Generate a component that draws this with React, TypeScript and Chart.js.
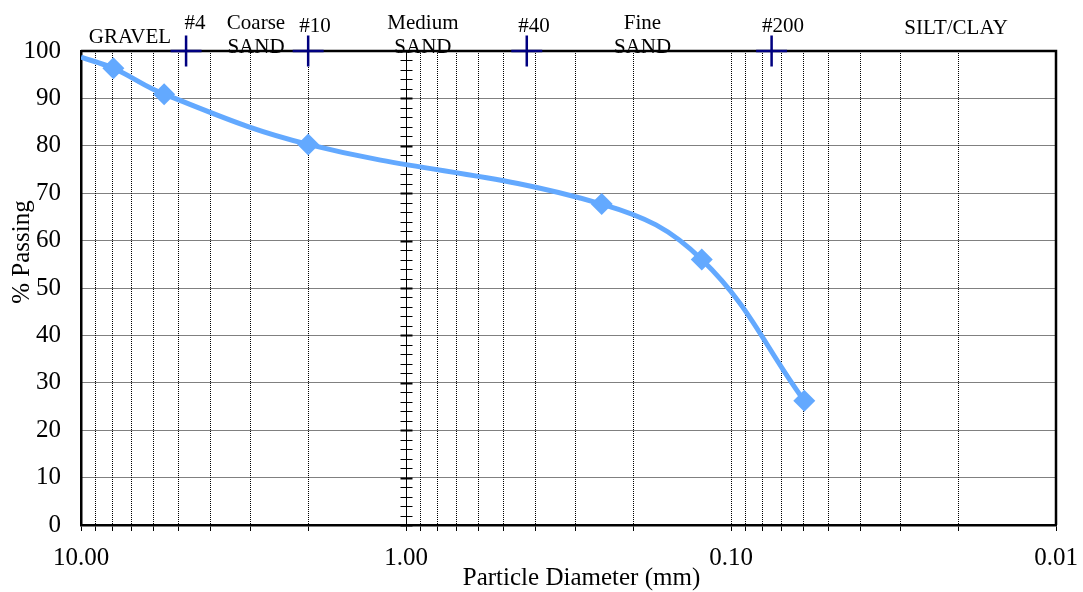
import React, { useEffect, useRef } from 'react';
import { Chart, registerables } from 'chart.js';

Chart.register(...registerables);

// ---------------- data ----------------
const diameters = [10.0, 7.95, 5.55, 2.0, 0.25, 0.123, 0.0595];
const percentPassing = [98.7, 96.35, 90.9, 80.3, 67.7, 56.0, 26.2];
const markerShown = [false, true, true, true, true, true, true];

const sieveNames = ['#4', '#10', '#40', '#200'];
const sieveSizes = [4.75, 2.0, 0.425, 0.075];
const sievePercent = [100, 100, 100, 100];

const zoneNames = [['GRAVEL'], ['Coarse', 'SAND'], ['Medium', 'SAND'], ['Fine', 'SAND'], ['SILT/CLAY']];
const zoneCentersMm = [7.07, 2.894, 0.887, 0.1872, 0.0203];
const sieveLabelCentersMm = [4.46, 1.905, 0.404, 0.0692];

const yTicks = [0, 10, 20, 30, 40, 50, 60, 70, 80, 90, 100];
const xMajorTicks = [10, 1, 0.1, 0.01];
const xMinorMultipliers = [2, 3, 4, 5, 6, 7, 8, 9];

const xTitle = 'Particle Diameter (mm)';
const yTitle = '% Passing';

// ---------------- styles ----------------
const FONT = "'Liberation Serif', 'Times New Roman', serif";
const CURVE_COLOR = 'rgb(99,169,255)';
const SIEVE_COLOR = '#000080';

const xTickValues: number[] = [];
xMajorTicks.forEach((m) => {
  xTickValues.push(m);
  if (m < 10) {
    xMinorMultipliers.forEach((k) => xTickValues.push(k * m));
  }
});

function majorLabel(v: number): string {
  for (const m of xMajorTicks) {
    if (Math.abs(v - m) / m < 1e-6) return m.toFixed(2);
  }
  return '';
}

// vertical text offsets (px from top of plot area) for the header labels
const zoneLineOffsets = [[-8], [-22, 2], [-22, 2], [-22, 2], [-17]];
const sieveLabelOffsets = [-22, -19, -19, -19];

const overlay = {
  id: 'overlay',
  beforeDatasetsDraw(chart: any) {
    const { ctx, chartArea: a, scales } = chart;
    const xs = scales.x;
    const ys = scales.y;
    ctx.save();
    // vertical reference line at 1.00 mm with crossing ticks
    const px = Math.round(xs.getPixelForValue(1)) + 0.5;
    ctx.strokeStyle = '#000';
    ctx.lineWidth = 1;
    ctx.beginPath();
    ctx.moveTo(px, a.top);
    ctx.lineTo(px, a.bottom);
    ctx.stroke();
    for (let v = 0; v <= 100; v += 2) {
      const py = Math.round(ys.getPixelForValue(v)) + 0.5;
      ctx.lineWidth = v % 10 === 0 ? 2 : 1;
      ctx.beginPath();
      ctx.moveTo(px - 6, py);
      ctx.lineTo(px + 6, py);
      ctx.stroke();
    }
    // top and right frame
    ctx.lineWidth = 2.5;
    ctx.beginPath();
    ctx.moveTo(a.left, a.top);
    ctx.lineTo(a.right, a.top);
    ctx.lineTo(a.right, a.bottom);
    ctx.stroke();
    ctx.restore();
  },
  afterDraw(chart: any) {
    const { ctx, chartArea: a, scales } = chart;
    const xs = scales.x;
    ctx.save();
    ctx.fillStyle = '#000';
    ctx.textAlign = 'center';
    ctx.textBaseline = 'alphabetic';
    ctx.font = `21px ${FONT}`;
    zoneNames.forEach((lines, i) => {
      const cx = xs.getPixelForValue(zoneCentersMm[i]);
      lines.forEach((t, j) => {
        ctx.fillText(t, cx, a.top + zoneLineOffsets[i][j]);
      });
    });
    sieveNames.forEach((t, i) => {
      const cx = xs.getPixelForValue(sieveLabelCentersMm[i]);
      ctx.fillText(t, cx, a.top + sieveLabelOffsets[i]);
    });
    // axis titles
    ctx.font = `25px ${FONT}`;
    ctx.fillText(xTitle, (a.left + a.right) / 2 + 13, a.bottom + 60);
    ctx.save();
    ctx.translate(29, a.top + 201);
    ctx.rotate(-Math.PI / 2);
    ctx.fillText(yTitle, 0, 0);
    ctx.restore();
    ctx.restore();
  },
};

export default function App() {
  const ref = useRef<HTMLCanvasElement | null>(null);

  useEffect(() => {
    if (!ref.current) return;
    const chart = new Chart(ref.current, {
      type: 'scatter',
      data: {
        datasets: [
          {
            label: 'Gradation',
            data: diameters.map((d, i) => ({ x: d, y: percentPassing[i] })),
            showLine: true,
            borderColor: CURVE_COLOR,
            backgroundColor: CURVE_COLOR,
            borderWidth: 5,
            tension: 0.4,
            pointStyle: 'rectRot',
            pointRadius: markerShown.map((s) => (s ? 11 : 0)),
            pointBackgroundColor: CURVE_COLOR,
            pointBorderColor: CURVE_COLOR,
            pointBorderWidth: 0,
            order: 2,
          } as any,
          {
            label: 'Sieves',
            data: sieveSizes.map((d, i) => ({ x: d, y: sievePercent[i] })),
            showLine: false,
            pointStyle: 'cross',
            pointRadius: 15.5,
            borderColor: SIEVE_COLOR,
            backgroundColor: SIEVE_COLOR,
            pointBorderColor: SIEVE_COLOR,
            pointBorderWidth: 2.5,
            borderWidth: 2.5,
            clip: false,
            order: 1,
          } as any,
        ],
      },
      options: {
        animation: false,
        responsive: false,
        layout: { padding: { top: 51, right: 27, left: 0, bottom: 0 } },
        plugins: {
          legend: { display: false },
          tooltip: { enabled: false },
        },
        scales: {
          x: {
            type: 'logarithmic',
            reverse: true,
            min: 0.01,
            max: 10,
            afterBuildTicks: (s: any) => {
              s.ticks = xTickValues.map((v) => ({ value: v }));
            },
            afterFit: (s: any) => {
              s.height = 67;
            },
            ticks: {
              autoSkip: false,
              maxRotation: 0,
              minRotation: 0,
              padding: 12,
              color: '#000',
              font: { family: FONT, size: 25 },
              callback: (v: any) => majorLabel(Number(v)),
            },
            grid: {
              color: '#000',
              lineWidth: 1,
              drawTicks: true,
              tickLength: 6,
              tickColor: '#000',
              tickWidth: 1,
              tickBorderDash: [],
            },
            border: { display: true, color: '#000', width: 2.5, dash: [1, 1] },
          },
          y: {
            type: 'linear',
            min: 0,
            max: 100,
            afterBuildTicks: (s: any) => {
              s.ticks = yTicks.map((v) => ({ value: v }));
            },
            afterFit: (s: any) => {
              s.width = 81;
            },
            ticks: {
              padding: 20,
              color: '#000',
              font: { family: FONT, size: 25 },
            },
            grid: { color: '#000', lineWidth: 1, drawTicks: false },
            border: { display: true, color: '#000', width: 2.5, dash: [1, 1] },
          },
        },
      } as any,
      plugins: [overlay],
    });
    return () => chart.destroy();
  }, []);

  return (
    <div style={{ position: 'absolute', left: 0, top: 0, width: 1083, height: 592, background: '#fff' }}>
      <canvas ref={ref} width={1083} height={592} />
    </div>
  );
}
